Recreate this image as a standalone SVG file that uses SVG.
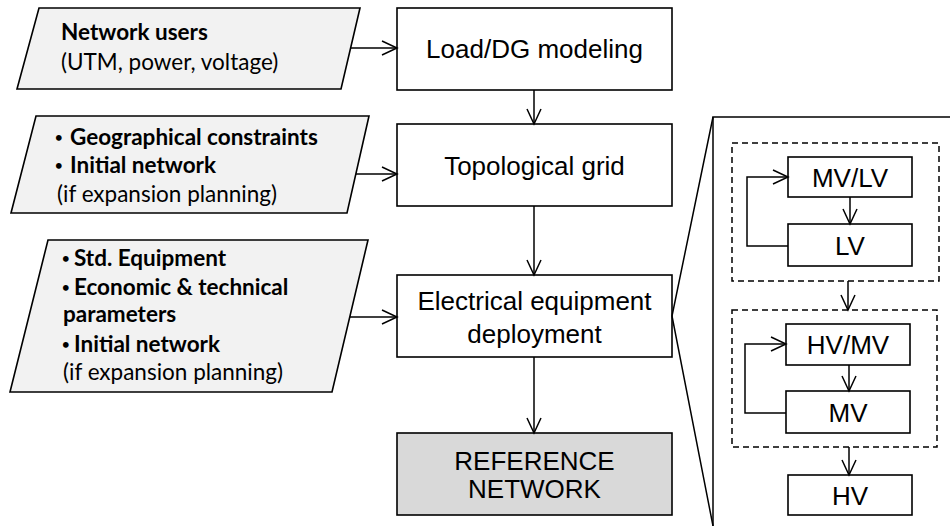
<svg xmlns="http://www.w3.org/2000/svg" width="950" height="526" viewBox="0 0 950 526">
<defs>
<marker id="arr" markerUnits="userSpaceOnUse" markerWidth="18" markerHeight="18" refX="15" refY="7" orient="auto" viewBox="-1 -1 18 16">
<path d="M0,0 L15,7 L0,14" fill="none" stroke="#000" stroke-width="1.5"/>
</marker>
</defs>
<style>
.box{fill:#fff;stroke:#000;stroke-width:1.6}
.ref{fill:#d9d9d9;stroke:#000;stroke-width:1.6}
.para{fill:#f2f2f2;stroke:#000;stroke-width:1.6}
.dash{fill:none;stroke:#000;stroke-width:1.5;stroke-dasharray:6,4}
.main{font-family:"Liberation Sans",Arial,sans-serif;font-size:26px;fill:#000;text-anchor:middle}
.in{font-family:Lato,"Open Sans",sans-serif;font-size:22.5px;fill:#000}
.b{font-weight:bold}
.bul{font-size:13px}
.conn{fill:none;stroke:#000;stroke-width:1.5}
</style>
<g id="in1">
<polygon class="para" points="39,8 360,8 341,89 17,89"/>
<text class="in b" x="61" y="40">Network users</text>
<text class="in" x="61" y="70">(UTM, power, voltage)</text>
</g>
<g id="in2">
<polygon class="para" points="36,116 369,116 347,213 11,213"/>
<text class="in b" y="145"><tspan class="bul" x="55" dy="-3">•</tspan><tspan x="70" dy="3">Geographical  constraints</tspan></text>
<text class="in b" y="173"><tspan class="bul" x="55" dy="-3">•</tspan><tspan x="70" dy="3">Initial network</tspan></text>
<text class="in" x="57" y="202">(if  expansion planning)</text>
</g>
<g id="in3">
<polygon class="para" points="48,240 368,240 332,392 10,392"/>
<text class="in b" y="266"><tspan class="bul" x="62" dy="-3">•</tspan><tspan x="74" dy="3">Std. Equipment</tspan></text>
<text class="in b" y="295"><tspan class="bul" x="62" dy="-3">•</tspan><tspan x="74" dy="3">Economic &amp; technical</tspan></text>
<text class="in b" x="63" y="322">parameters</text>
<text class="in b" y="352"><tspan class="bul" x="62" dy="-3">•</tspan><tspan x="74" dy="3">Initial network</tspan></text>
<text class="in" x="63" y="380">(if  expansion planning)</text>
</g>
<g id="load">
<rect class="box" x="397" y="8" width="275" height="82"/>
<text class="main" x="534.5" y="58">Load/DG modeling</text>
</g>
<g id="topo">
<rect class="box" x="397" y="124" width="275" height="82"/>
<text class="main" x="534.5" y="174.5">Topological grid</text>
</g>
<g id="elec">
<rect class="box" x="397" y="275" width="275" height="82"/>
<text class="main" x="534.5" y="309.5">Electrical equipment</text>
<text class="main" x="534.5" y="342.5">deployment</text>
</g>
<g id="refnet">
<rect class="ref" x="397" y="433" width="275" height="82"/>
<text class="main" x="534.5" y="470">REFERENCE</text>
<text class="main" x="534.5" y="498">NETWORK</text>
</g>
<g id="group1">
<rect class="dash" x="732" y="143" width="207" height="138"/>
</g>
<g id="group2">
<rect class="dash" x="732" y="310" width="205" height="137"/>
</g>
<g id="mvlv">
<rect class="box" x="788" y="157" width="124" height="40"/>
<text class="main" x="850" y="186.5">MV/LV</text>
</g>
<g id="lv">
<rect class="box" x="788" y="224" width="124" height="42"/>
<text class="main" x="850" y="254.5">LV</text>
</g>
<g id="hvmv">
<rect class="box" x="786" y="324" width="124" height="41"/>
<text class="main" x="848" y="354">HV/MV</text>
</g>
<g id="mv">
<rect class="box" x="786" y="391" width="124" height="42"/>
<text class="main" x="848" y="421.5">MV</text>
</g>
<g id="hv">
<rect class="box" x="788" y="475" width="124" height="40"/>
<text class="main" x="850" y="504.5">HV</text>
</g>
<g id="connectors">
<path class="conn" d="M351,48 H397" marker-end="url(#arr)"/>
<path class="conn" d="M356,174 H397" marker-end="url(#arr)"/>
<path class="conn" d="M350,317 H397" marker-end="url(#arr)"/>
<path class="conn" d="M534,90 V124" marker-end="url(#arr)"/>
<path class="conn" d="M534,206 V275" marker-end="url(#arr)"/>
<path class="conn" d="M534,357 V433" marker-end="url(#arr)"/>
<path class="conn" d="M850,197 V224" marker-end="url(#arr)"/>
<path class="conn" d="M848,281 V310" marker-end="url(#arr)"/>
<path class="conn" d="M849,365 V391" marker-end="url(#arr)"/>
<path class="conn" d="M849,447 V475" marker-end="url(#arr)"/>
<path class="conn" d="M788,246 H747 V177 H788" marker-end="url(#arr)"/>
<path class="conn" d="M786,413 H745 V344 H786" marker-end="url(#arr)"/>
<path class="conn" d="M950,117 H713 V526"/>
<path class="conn" d="M713,117 L672,316 L713,526"/>
</g>
</svg>
